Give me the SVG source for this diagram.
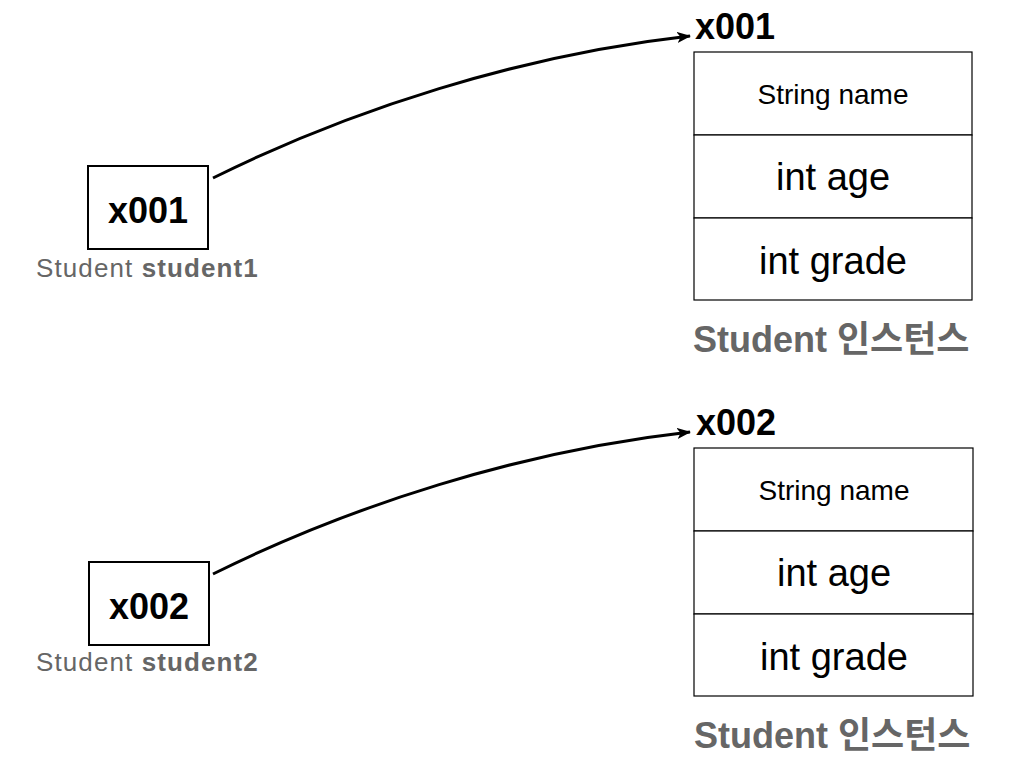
<svg xmlns="http://www.w3.org/2000/svg" width="1017" height="764" viewBox="0 0 1017 764">
<defs>
<style>
text{font-family:"Liberation Sans","Noto Sans CJK KR",sans-serif;}
.box{fill:#fff;stroke:#000;stroke-width:2;}
.cell{fill:#fff;stroke:#000;stroke-width:1.2;}
.ref{font-size:36px;font-weight:bold;text-anchor:middle;fill:#000;}
.addr{font-size:36px;font-weight:bold;fill:#000;}
.var{font-size:26px;letter-spacing:1.1px;fill:#666;}
.inst{font-size:36px;font-weight:bold;fill:#666;}
.f1{font-size:28px;text-anchor:middle;fill:#000;}
.f2{font-size:38px;text-anchor:middle;fill:#000;}
.conn{fill:none;stroke:#000;stroke-width:3;}
</style>
<marker id="arr" viewBox="0 0 14 11" refX="13" refY="5.5" markerWidth="14" markerHeight="11" markerUnits="userSpaceOnUse" orient="auto">
<path d="M0,0 L14,5.5 L0,11 L3.5,5.5 Z" fill="#000"/>
</marker>
</defs>
<rect width="1017" height="764" fill="#fff"/>
<g id="connectors">
<path class="conn" d="M213,178 C350,110 520,55 690,36" marker-end="url(#arr)"/>
<path class="conn" d="M213,574 C350,506 520,451 690,432" marker-end="url(#arr)"/>
</g>
<g id="student1">
<rect class="box" x="88" y="166" width="120" height="83"/>
<text class="ref" x="148" y="223">x001</text>
<text class="var" x="36" y="277">Student <tspan font-weight="bold">student1</tspan></text>
</g>
<g id="instance1">
<text class="addr" x="695" y="39">x001</text>
<rect class="cell" x="694" y="52" width="278" height="83"/>
<rect class="cell" x="694" y="135" width="278" height="83"/>
<rect class="cell" x="694" y="218" width="278" height="82"/>
<text class="f1" x="833" y="104">String name</text>
<text class="f2" x="833" y="190">int age</text>
<text class="f2" x="833" y="274">int grade</text>
<text class="inst" x="693" y="352">Student 인스턴스</text>
</g>
<g id="student2">
<rect class="box" x="89" y="562" width="120" height="83"/>
<text class="ref" x="149" y="619">x002</text>
<text class="var" x="36" y="671">Student <tspan font-weight="bold">student2</tspan></text>
</g>
<g id="instance2">
<text class="addr" x="696" y="435">x002</text>
<rect class="cell" x="694" y="448" width="279" height="83"/>
<rect class="cell" x="694" y="531" width="279" height="83"/>
<rect class="cell" x="694" y="614" width="279" height="82"/>
<text class="f1" x="834" y="500">String name</text>
<text class="f2" x="834" y="586">int age</text>
<text class="f2" x="834" y="670">int grade</text>
<text class="inst" x="694" y="748">Student 인스턴스</text>
</g>
</svg>
